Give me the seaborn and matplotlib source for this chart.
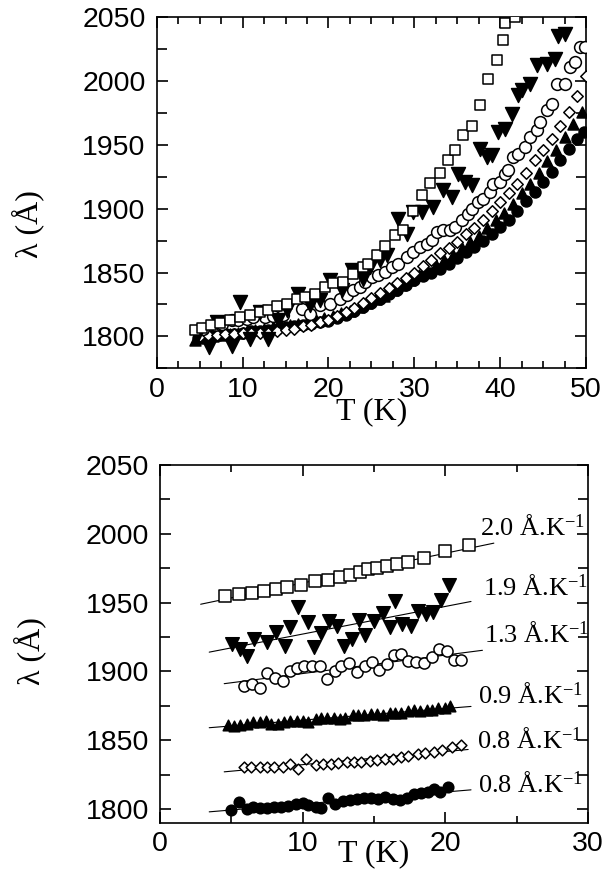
import numpy as np
import pandas as pd
import matplotlib
matplotlib.use("Agg")
import matplotlib.pyplot as plt
import seaborn as sns

# ---------------- DATA ----------------
# Top panel: lambda(T) over full range
top_sq_T = [4.46, 5.32, 6.28, 7.37, 8.54, 9.70, 10.87, 12.03, 13.00, 13.97, 15.14, 16.30, 17.27, 18.44,
            19.60, 20.57, 21.74, 22.90, 24.07, 24.65, 25.62, 26.59, 27.75, 28.72, 29.89, 30.86, 31.83,
            33.00, 33.97, 34.74, 35.71, 36.68, 37.65, 38.62, 39.59, 40.37, 40.56, 41.73]
top_sq_L = [1805.2, 1806.8, 1808.6, 1810.4, 1813.1, 1815.2, 1817.0, 1819.1, 1820.9, 1823.5, 1825.6, 1829.5,
            1830.8, 1833.4, 1838.7, 1841.8, 1842.6, 1848.6, 1854.3, 1856.9, 1863.5, 1870.5, 1879.2, 1883.1,
            1898.2, 1910.5, 1920.2, 1928.0, 1938.5, 1945.8, 1957.5, 1964.6, 1981.0, 2001.9, 2016.8, 2032.0,
            2045.6, 2050.3]

top_dt_T = [4.85, 6.13, 6.98, 8.73, 9.70, 10.87, 12.03, 13.00, 14.17, 15.14, 16.49, 17.85, 19.02, 20.18,
            21.54, 22.71, 24.07, 24.84, 26.01, 26.79, 28.14, 29.12, 29.89, 30.86, 32.22, 33.38, 34.35,
            35.13, 35.90, 36.68, 37.65, 38.43, 39.01, 39.79, 40.56, 41.34, 42.12, 42.50, 43.47, 44.25,
            45.42, 46.39, 46.78, 47.55]
top_dt_L = [1802.1, 1791.6, 1811.2, 1792.2, 1826.9, 1798.2, 1819.1, 1798.2, 1812.5, 1820.4, 1833.4, 1824.3,
            1828.2, 1843.9, 1836.1, 1851.7, 1845.2, 1854.3, 1859.6, 1863.5, 1892.2, 1880.5, 1897.4, 1897.4,
            1901.4, 1914.9, 1909.2, 1927.5, 1921.0, 1918.3, 1947.1, 1940.5, 1941.9, 1960.1, 1962.7, 1974.5,
            1988.9, 1992.8, 1998.0, 2012.4, 2013.7, 2017.6, 2035.1, 2037.2]

top_oc_T = [5.43, 6.79, 7.57, 8.73, 9.51, 10.48, 11.25, 12.61, 13.58, 14.75, 16.88, 17.85, 19.02, 20.18,
            21.35, 22.12, 22.90, 23.68, 24.26, 25.04, 25.81, 26.59, 27.37, 28.14, 29.11, 29.89, 30.67,
            31.44, 32.02, 32.61, 33.38, 34.16, 34.74, 35.52, 36.29, 36.68, 37.46, 38.04, 38.82, 39.21,
            39.98, 40.56, 40.95, 41.53, 42.12, 42.89, 43.47, 44.25, 44.64, 45.42, 46.00, 46.58, 47.55,
            48.13, 48.71, 49.29, 49.87]
top_oc_L = [1806.0, 1808.6, 1809.9, 1812.5, 1812.5, 1813.8, 1815.2, 1815.2, 1815.7, 1816.5, 1821.7, 1817.8,
            1824.3, 1825.6, 1829.5, 1832.1, 1836.1, 1838.7, 1842.6, 1846.5, 1847.8, 1850.4, 1854.3, 1856.9,
            1862.2, 1866.1, 1870.0, 1872.6, 1875.2, 1881.8, 1883.1, 1883.1, 1885.7, 1890.9, 1896.1, 1900.1,
            1905.3, 1907.9, 1913.1, 1919.6, 1921.0, 1927.5, 1930.1, 1940.5, 1943.2, 1948.4, 1956.2, 1961.4,
            1968.0, 1977.1, 1982.3, 1998.0, 1998.0, 2011.1, 2015.0, 2026.7, 2026.7]

top_di_T = [5.0, 6.0, 7.0, 8.0, 9.0, 10.0, 11.0, 12.0, 13.0, 14.0, 15.0, 16.0, 17.0, 18.0, 19.0, 20.0,
            21.0, 22.0, 23.0, 24.0, 25.0, 26.0, 27.0, 28.0, 29.0, 30.0, 31.0, 32.0, 33.0, 34.0, 35.0,
            36.0, 37.0, 38.0, 39.0, 40.0, 41.0, 42.0, 43.0, 44.0, 45.0, 46.0, 47.0, 48.0, 49.0, 50.0]
top_di_L = [1800, 1801, 1801, 1802, 1802, 1803, 1803, 1803, 1803, 1804, 1805, 1806, 1808, 1809, 1811, 1813,
            1816, 1819, 1822, 1826, 1830, 1834, 1838, 1842, 1846, 1850, 1855, 1860, 1865, 1869, 1874,
            1880, 1885, 1891, 1898, 1905, 1912, 1919, 1928, 1938, 1946, 1955, 1965, 1976, 1988, 2004]

top_ut_T = [4.5, 5.5, 6.5, 7.5, 8.5, 9.5, 10.5, 11.5, 12.5, 13.5, 14.5, 15.5, 16.5, 17.5, 18.5, 19.5,
            20.5, 21.5, 22.5, 23.5, 24.5, 25.5, 26.5, 27.5, 28.5, 29.5, 30.5, 31.5, 32.5, 33.5, 34.5,
            35.5, 36.5, 37.5, 38.5, 39.5, 40.5, 41.5, 42.5, 43.5, 44.5, 45.5, 46.5, 47.5, 48.5, 49.5]
top_ut_L = [1797, 1799, 1800, 1801, 1802, 1803, 1804, 1805, 1806, 1807, 1808, 1809, 1810, 1811, 1813, 1814,
            1816, 1818, 1820, 1823, 1826, 1829, 1832, 1836, 1840, 1844, 1848, 1852, 1856, 1860, 1864,
            1869, 1874, 1879, 1885, 1891, 1897, 1904, 1912, 1919, 1928, 1937, 1946, 1956, 1966, 1976]

top_fc_T = [4.8, 5.5, 6.3, 7.2, 8.1, 9.0, 10.0, 11.0, 12.0, 13.0, 14.0, 15.0, 16.0, 17.0, 18.0, 19.0,
            20.0, 21.0, 22.0, 23.0, 24.0, 25.0, 26.0, 27.0, 28.0, 29.0, 30.0, 31.0, 32.0, 33.0, 34.0,
            35.0, 36.0, 37.0, 38.0, 39.0, 40.0, 41.0, 42.0, 43.0, 44.0, 45.0, 46.0, 47.0, 48.0, 49.0, 49.8]
top_fc_L = [1799, 1801, 1800, 1801, 1802, 1802, 1803, 1804, 1804, 1805, 1806, 1807, 1808, 1809, 1810, 1811,
            1812, 1814, 1817, 1820, 1823, 1826, 1829, 1833, 1836, 1840, 1844, 1847, 1850, 1853, 1857,
            1861, 1866, 1870, 1875, 1880, 1886, 1891, 1898, 1906, 1913, 1921, 1929, 1938, 1947, 1955, 1960]

# Bottom panel: low-T data (vertically offset) with linear fits
bot_sq_T = [4.58, 5.53, 6.48, 7.32, 8.10, 8.92, 9.86, 10.84, 11.79, 12.60, 13.33, 14.01, 14.55, 15.23,
            15.91, 16.59, 17.40, 18.48, 19.97, 21.68]
bot_sq_L = [1954.6, 1956.3, 1957.2, 1958.4, 1959.6, 1961.6, 1963.0, 1965.9, 1966.7, 1968.8, 1970.3, 1972.2,
            1974.2, 1974.9, 1976.4, 1978.1, 1979.3, 1982.2, 1987.7, 1992.1]

bot_dt_T = [5.07, 5.61, 6.07, 6.56, 7.51, 8.10, 8.73, 9.13, 9.67, 10.35, 10.76, 11.25, 11.84, 12.38, 12.93,
            13.47, 13.96, 14.39, 14.99, 15.64, 16.12, 16.50, 16.99, 17.59, 18.08, 18.62, 19.11, 19.70, 20.24]
bot_dt_L = [1919.9, 1916.3, 1911.4, 1923.5, 1921.1, 1928.4, 1918.7, 1932.0, 1946.6, 1935.7, 1918.0, 1927.7,
            1936.9, 1933.2, 1918.7, 1923.5, 1937.4, 1926.7, 1936.9, 1942.2, 1932.0, 1951.4, 1934.4, 1933.2,
            1944.1, 1941.7, 1942.9, 1951.9, 1963.0]

bot_oc_T = [5.88, 6.48, 7.02, 7.51, 8.05, 8.59, 9.08, 9.62, 10.11, 10.65, 11.19, 11.71, 12.25, 12.71, 13.28,
            13.79, 14.36, 14.85, 15.37, 15.91, 16.40, 16.91, 17.40, 17.94, 18.51, 19.05, 19.57, 20.11,
            20.60, 21.11]
bot_oc_L = [1889.6, 1890.8, 1887.9, 1898.6, 1895.2, 1892.8, 1900.5, 1902.5, 1903.7, 1903.7, 1904.2, 1894.2,
            1900.0, 1903.9, 1906.1, 1899.3, 1904.2, 1907.1, 1901.0, 1905.4, 1911.9, 1912.6, 1907.8, 1907.1,
            1906.1, 1910.7, 1916.3, 1914.6, 1908.3, 1908.3]

bot_ut_T = [4.8, 5.2, 5.6, 6.1, 6.5, 7.0, 7.4, 7.8, 8.3, 8.7, 9.1, 9.6, 10.0, 10.4, 10.9, 11.3, 11.7, 12.2,
            12.6, 13.0, 13.5, 13.9, 14.3, 14.8, 15.2, 15.6, 16.1, 16.5, 16.9, 17.4, 17.8, 18.2, 18.7, 19.1,
            19.5, 20.0, 20.3]
bot_ut_L = [1861, 1860, 1861, 1862, 1863, 1863, 1864, 1862, 1862, 1863, 1864, 1864, 1864, 1863, 1865, 1866,
            1866, 1866, 1865, 1866, 1868, 1868, 1868, 1869, 1869, 1868, 1870, 1870, 1870, 1871, 1872, 1871,
            1872, 1872, 1873, 1873, 1875]

bot_di_T = [5.9, 6.4, 7.0, 7.5, 8.0, 8.6, 9.1, 9.7, 10.2, 10.9, 11.4, 12.0, 12.5, 13.1, 13.6, 14.1, 14.7,
            15.2, 15.8, 16.3, 16.9, 17.4, 18.1, 18.6, 19.2, 19.8, 20.5, 21.1]
bot_di_L = [1830.3, 1830.3, 1830.3, 1830.3, 1830.8, 1830.8, 1832.7, 1829.1, 1836.3, 1832.2, 1832.7, 1832.7,
            1833.4, 1833.9, 1834.4, 1834.4, 1835.1, 1835.6, 1836.3, 1836.3, 1837.5, 1838.8, 1840.0, 1840.5,
            1841.2, 1842.9, 1844.8, 1846.5]

bot_fc_T = [4.99, 5.53, 6.07, 6.5, 7.0, 7.5, 8.0, 8.5, 9.0, 9.5, 10.0, 10.4, 10.9, 11.3, 11.8, 12.3, 12.8,
            13.3, 13.8, 14.3, 14.8, 15.3, 15.8, 16.3, 16.8, 17.3, 17.8, 18.3, 18.8, 19.2, 19.6, 20.2]
bot_fc_L = [1799.5, 1804.8, 1800.0, 1801.7, 1800.5, 1801.0, 1801.7, 1801.5, 1802.4, 1803.6, 1804.1, 1803.2,
            1801.7, 1801.0, 1807.8, 1803.8, 1805.5, 1806.2, 1807.3, 1808.0, 1808.0, 1807.5, 1808.5, 1807.0,
            1806.4, 1807.6, 1810.6, 1811.5, 1812.0, 1814.5, 1812.4, 1816.2]

slope_labels = ["2.0", "1.9", "1.3", "0.9", "0.8", "0.8"]

# ---------------- LAYOUT / STYLE ----------------
sns.set_style("ticks")
plt.rcParams["font.family"] = ["Liberation Sans", "DejaVu Sans"]
plt.rcParams["mathtext.default"] = "regular"
plt.rcParams["axes.linewidth"] = 1.2
for key in ("text.color", "axes.labelcolor", "xtick.color", "ytick.color", "axes.edgecolor"):
    plt.rcParams[key] = "black"

SERIF = ["Liberation Serif", "DejaVu Serif"]
TICKFS = 20.5
LABFS = 23
ANNFS = 19

fig = plt.figure(figsize=(6.07, 8.81), dpi=100)
ax1 = fig.add_axes([0.2582, 0.5820, 0.7073, 0.3984])
ax2 = fig.add_axes([0.2636, 0.0662, 0.7051, 0.4060])

def scat(ax, T, L, marker, filled, s, lw=1.1):
    sns.scatterplot(x=T, y=L, ax=ax, marker=marker, s=s,
                    color="black" if filled else "white",
                    edgecolor="black", linewidth=lw, legend=False, zorder=3)

# top panel series
scat(ax1, top_fc_T, top_fc_L, "o", True, 62)
scat(ax1, top_ut_T, top_ut_L, "^", True, 62)
scat(ax1, top_di_T, top_di_L, "D", False, 34)
scat(ax1, top_oc_T, top_oc_L, "o", False, 72)
scat(ax1, top_dt_T, top_dt_L, "v", True, 100)
scat(ax1, top_sq_T, top_sq_L, "s", False, 62)

# bottom panel series + fits
bot_series = [
    (bot_sq_T, bot_sq_L, "s", False, 64, (2.85, 23.4)),
    (bot_dt_T, bot_dt_L, "v", True, 95, (3.45, 21.8)),
    (bot_oc_T, bot_oc_L, "o", False, 64, (4.5, 22.6)),
    (bot_ut_T, bot_ut_L, "^", True, 58, (3.45, 21.8)),
    (bot_di_T, bot_di_L, "D", False, 30, (4.5, 21.6)),
    (bot_fc_T, bot_fc_L, "o", True, 58, (3.45, 21.8)),
]
label_pos = [(22.4, 1999), (22.65, 1955.2), (22.7, 1921.2), (22.3, 1876.3), (22.2, 1843.5), (22.3, 1811.9)]

for (T, L, m, f, s, rng), lab, (lx, ly) in zip(bot_series, slope_labels, label_pos):
    k, b = np.polyfit(T, L, 1)
    xs = np.array(rng)
    sns.lineplot(x=xs, y=k * xs + b, ax=ax2, color="black", linewidth=0.8, zorder=2)
    scat(ax2, T, L, m, f, s)
    ax2.text(lx, ly, lab + " Å.K$^{-1}$", fontsize=ANNFS, family=SERIF, ha="left", va="baseline")

# axes formatting
ax1.set_xlim(0, 50)
ax1.set_ylim(1775, 2050)
ax1.set_xticks([0, 10, 20, 30, 40, 50])
ax1.set_xticks(np.arange(0, 50.1, 2.5), minor=True)
ax1.set_yticks([1800, 1850, 1900, 1950, 2000, 2050])
ax1.set_yticks(np.arange(1775, 2051, 25), minor=True)

ax2.set_xlim(0, 30)
ax2.set_ylim(1790, 2050)
ax2.set_xticks([0, 10, 20, 30])
ax2.set_xticks(np.arange(0, 30.1, 5), minor=True)
ax2.set_yticks([1800, 1850, 1900, 1950, 2000, 2050])
ax2.set_yticks(np.arange(1800, 2051, 25), minor=True)

for ax in (ax1, ax2):
    for sp in ax.spines.values():
        sp.set_visible(True)
        sp.set_linewidth(1.2)
        sp.set_color("black")
    ax.tick_params(which="both", direction="in", top=True, right=True, width=1.2,
                   labelsize=TICKFS, color="black", labelcolor="black")
    ax.tick_params(axis="y", which="both", pad=8)
    ax.tick_params(axis="x", which="both", pad=6)
    ax.tick_params(which="major", length=8)
    ax.tick_params(axis="x", which="minor", length=5)
    ax.tick_params(axis="y", which="minor", length=7)
    ax.set_xlabel("T (K)", fontsize=LABFS, family=SERIF, color="black")
    ax.set_ylabel("λ (Å)", fontsize=LABFS, family=SERIF, color="black")
    ax.yaxis.label.set_va("center")

ax1.xaxis.labelpad = -4
ax2.xaxis.labelpad = -13
ax1.yaxis.set_label_coords(-0.30, 0.41)
ax2.yaxis.set_label_coords(-0.305, 0.48)

fig.savefig("out.png", dpi=100)
